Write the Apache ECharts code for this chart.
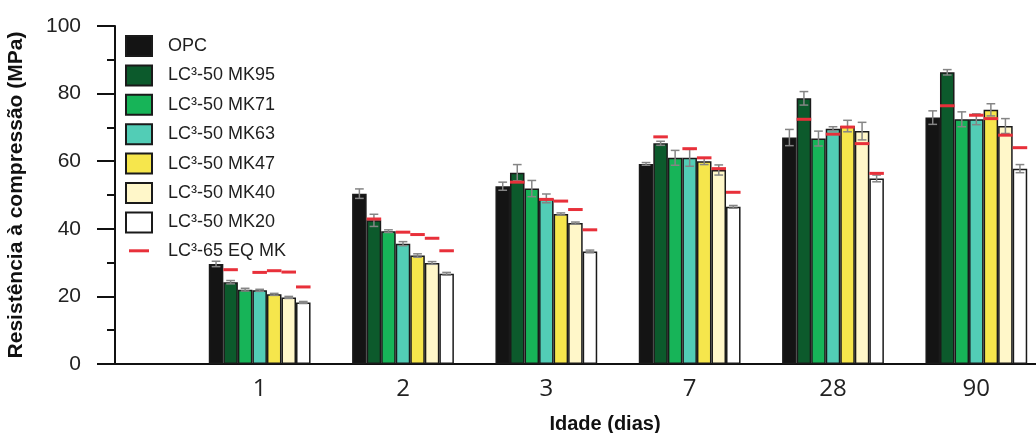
<!DOCTYPE html>
<html>
<head>
<meta charset="utf-8">
<script src="https://cdn.jsdelivr.net/npm/echarts@6/dist/echarts.min.js"></script>
<style>
  html, body { margin: 0; padding: 0; background: #fff; }
  #chart { width: 1036px; height: 433px; }
</style>
</head>
<body>
<div id="chart"></div>
<script>
// ages (days)
const categories = ['1', '2', '3', '7', '28', '90'];

// mean compressive strength (MPa)
const opc  = [29.6, 50.4, 52.6, 59.2, 67.0, 72.9];
const mk95 = [24.2, 42.5, 56.6, 65.3, 78.6, 86.3];
const mk71 = [22.0, 39.3, 51.9, 61.0, 66.7, 72.4];
const mk63 = [21.8, 35.6, 49.0, 61.0, 69.6, 72.4];
const mk47 = [20.6, 32.1, 44.4, 60.0, 70.4, 75.2];
const mk40 = [19.7, 29.9, 41.7, 57.4, 68.9, 70.4];
const mk20 = [18.2, 26.7, 33.3, 46.5, 54.9, 57.8];

// standard deviations
const opcErr  = [0.8, 1.4, 1.2, 0.4, 2.4, 2.0];
const mk95Err = [0.5, 1.8, 2.4, 0.6, 2.0, 0.8];
const mk71Err = [0.4, 0.4, 2.4, 2.2, 2.2, 2.2];
const mk63Err = [0.3, 0.6, 1.3, 2.5, 0.6, 1.6];
const mk47Err = [0.3, 0.5, 0.3, 1.0, 1.7, 1.8];
const mk40Err = [0.3, 0.4, 0.3, 1.5, 2.6, 2.2];
const mk20Err = [0.3, 0.4, 0.4, 0.4, 1.0, 1.2];

// LC3-65 equivalent MK (red dashes), aligned with MK95, MK63, MK47, MK40, MK20
const eq95 = [27.9, 42.9, 53.8, 67.2, 72.4, 76.4];
const eq63 = [27.1, 39.0, 48.7, 63.7, 68.0, 73.6];
const eq47 = [27.6, 38.3, 48.2, 61.0, 70.1, 72.6];
const eq40 = [27.2, 37.2, 45.7, 57.8, 65.2, 67.7];
const eq20 = [22.8, 33.5, 39.7, 50.8, 56.4, 64.0];

const yTicks = [0, 20, 40, 60, 80, 100];

const groups = [
  { name: 'OPC',           data: opc,  err: opcErr,  color: '#141414' },
  { name: 'LC³-50 MK95',   data: mk95, err: mk95Err, color: '#0c5a2c', eq: eq95 },
  { name: 'LC³-50 MK71',   data: mk71, err: mk71Err, color: '#17b458' },
  { name: 'LC³-50 MK63',   data: mk63, err: mk63Err, color: '#52cdb6', eq: eq63 },
  { name: 'LC³-50 MK47',   data: mk47, err: mk47Err, color: '#f6e64c', eq: eq47 },
  { name: 'LC³-50 MK40',   data: mk40, err: mk40Err, color: '#fff7c9', eq: eq40 },
  { name: 'LC³-50 MK20',   data: mk20, err: mk20Err, color: '#ffffff', eq: eq20 }
];
const eqName = 'LC³-65 EQ MK';
const GAP = 0.29;
const N = groups.length;

function barX(api, cat, idx) {
  const band = api.size([1, 0])[0];
  const w = band * (1 - GAP) / N;
  const c = api.coord([cat, 0]);
  return { x: c[0] - band * (1 - GAP) / 2 + w * (idx + 0.5), w: w };
}

function renderError(params, api) {
  const b = barX(api, api.value(0), api.value(3));
  const lo = api.coord([api.value(0), api.value(1)]);
  const hi = api.coord([api.value(0), api.value(2)]);
  const cap = b.w * 0.6;
  const st = { stroke: '#858585', lineWidth: 1.5 };
  return {
    type: 'group',
    children: [
      { type: 'line', shape: { x1: b.x, y1: hi[1], x2: b.x, y2: lo[1] }, style: st },
      { type: 'line', shape: { x1: b.x - cap / 2, y1: hi[1], x2: b.x + cap / 2, y2: hi[1] }, style: st },
      { type: 'line', shape: { x1: b.x - cap / 2, y1: lo[1], x2: b.x + cap / 2, y2: lo[1] }, style: st }
    ]
  };
}

function renderDash(params, api) {
  const b = barX(api, api.value(0), api.value(2));
  const p = api.coord([api.value(0), api.value(1)]);
  return {
    type: 'rect',
    shape: { x: b.x - b.w / 2, y: p[1] - 1.5, width: b.w, height: 3 },
    style: { fill: '#e8303a' }
  };
}

const errData = [];
const eqData = [];
groups.forEach(function (g, gi) {
  g.data.forEach(function (v, i) {
    errData.push([i, v - g.err[i], v + g.err[i], gi]);
    if (g.eq) eqData.push([i, g.eq[i], gi]);
  });
});

const series = groups.map(function (g) {
  return {
    name: g.name,
    type: 'bar',
    xAxisIndex: 1,
    yAxisIndex: 1,
    barGap: '0%',
    barCategoryGap: (GAP * 100) + '%',
    data: g.data,
    itemStyle: { color: g.color, borderColor: '#1a1a1a', borderWidth: 1.5 }
  };
});
series.push({
  type: 'custom',
  xAxisIndex: 1,
  yAxisIndex: 1,
  renderItem: renderError,
  encode: { x: 0, y: [1, 2] },
  data: errData,
  z: 3
});
series.push({
  name: eqName,
  type: 'custom',
  xAxisIndex: 1,
  yAxisIndex: 1,
  renderItem: renderDash,
  encode: { x: 0, y: 1 },
  itemStyle: { color: '#e8303a' },
  data: eqData,
  z: 4
});

const legendData = groups.map(function (g) {
  return { name: g.name, icon: 'rect' };
});
legendData.push({
  name: eqName,
  icon: 'path://M0,0L0,0M26,20L26,20M3,8.5L23,8.5L23,11.5L3,11.5Z',
  itemStyle: { color: '#e8303a', borderWidth: 0 }
});

const chart = echarts.init(document.getElementById('chart'));
chart.setOption({
  animation: false,
  textStyle: { fontFamily: 'Liberation Sans, Arial, sans-serif' },
  grid: [
    { left: 115, top: 26, width: 921, height: 338, outerBoundsMode: 'none' },
    { left: 188, top: 26, width: 860, height: 338, outerBoundsMode: 'none' }
  ],
  legend: {
    orient: 'vertical',
    left: 125,
    top: 35,
    padding: 0,
    itemWidth: 26,
    itemHeight: 20,
    itemGap: 7.4,
    selectedMode: false,
    textStyle: {
      fontSize: 18, lineHeight: 20, color: '#1e1e1e',
      fontFamily: 'Liberation Sans', padding: [0, 0, 0, 11]
    },
    data: legendData
  },
  xAxis: [{
    type: 'value',
    gridIndex: 0,
    min: 0,
    max: 1,
    axisLine: { show: true, onZero: false, lineStyle: { color: '#111', width: 2 } },
    axisTick: { show: false },
    axisLabel: { show: false },
    splitLine: { show: false }
  }, {
    type: 'category',
    gridIndex: 1,
    data: categories,
    axisLine: { show: false },
    axisTick: { show: false },
    axisLabel: { fontSize: 24, color: '#222', margin: 13, fontFamily: 'Open Sans' },
    name: 'Idade (dias)',
    nameLocation: 'middle',
    nameGap: 50,
    nameTextStyle: { fontSize: 20, fontWeight: 'bold', color: '#111', padding: [0, 26, 0, 0] }
  }],
  yAxis: [{
    type: 'value',
    gridIndex: 0,
    min: 0,
    max: 100,
    interval: 20,
    axisLine: { show: true, lineStyle: { color: '#111', width: 2 } },
    axisTick: { show: true, length: 18, lineStyle: { color: '#111', width: 2 } },
    minorTick: { show: true, splitNumber: 2, length: 8, lineStyle: { color: '#111', width: 2 } },
    axisLabel: {
      fontSize: 21, color: '#222', margin: 34,
      formatter: function (v) { return yTicks.indexOf(v) >= 0 ? String(v) : ''; }
    },
    splitLine: { show: false },
    name: 'Resistência à compressão (MPa)',
    nameLocation: 'middle',
    nameGap: 88,
    nameTextStyle: { fontSize: 21, fontWeight: 'bold', color: '#111' }
  }, {
    type: 'value',
    gridIndex: 1,
    min: 0,
    max: 100,
    show: false
  }],
  series: series
});
</script>
</body>
</html>
